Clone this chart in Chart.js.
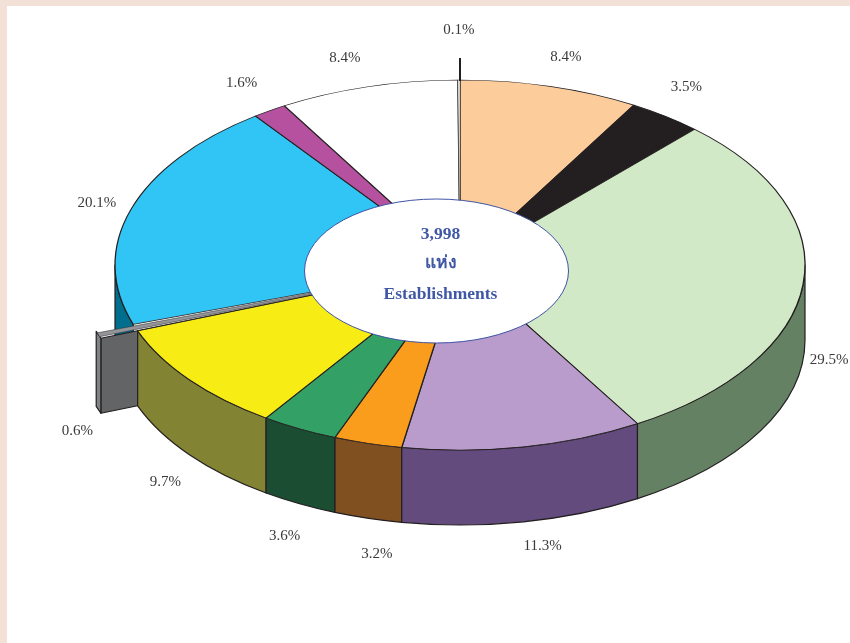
<!DOCTYPE html>
<html><head><meta charset="utf-8">
<style>
html,body{margin:0;padding:0;background:#f3e0d6;width:850px;height:643px;overflow:hidden}
#sheet{position:absolute;left:7px;top:6px;right:0;bottom:0;background:#fff}
canvas{position:absolute;left:0;top:0}
</style>
<script src="https://cdn.jsdelivr.net/npm/chart.js@4/dist/chart.umd.min.js"></script>
</head><body><div id="sheet"></div><canvas id="c" width="850" height="643"></canvas>
<script>
const sectors = ['A','B','C','D','E','F','G','H','I','J','K','L'];
const values = [8.4,3.5,29.5,11.3,3.2,3.6,9.7,0.6,20.1,1.6,8.4,0.1];
const topColors = ['#fdcc9b','#231f20','#d1e9c6','#b99ccb','#fa9c1c','#33a066','#f7ec13','#939598','#31c5f6','#b5519f','#ffffff','#ffffff'];
const wallColors = ['#c9a27a','#111111','#648163','#644b7d','#805021','#1b4d33','#828333','#636466','#006f8e','#7a3570','#dddddd','#dddddd'];
const explode = [0,0,0,0,0,0,0,80,0,0,0,0];
const borderWidths = [1.3,1.3,1.3,1.3,1.3,1.3,1.3,0.6,1.3,1.3,1.3,0.6];
const labelNudge = [[16,-29],[21,-29],[26,76],[19,99],[9,111],[-15,107],[-24,102],[-58,103],[-34,-6],[-28,-28],[-23,-29],[0,-50]];
const centerLines = ['3,998','แห่ง','Establishments'];

const SQUASH = 185/345, DEPTH = 75, INK = '#231f20';
const HOLE = {dx:-23.5, dy:6, rx:132, ry:72};

function wallPath(ctx,el,ry,a1,a2){
  ctx.beginPath();
  ctx.ellipse(el.x,el.y,el.outerRadius,ry,0,a1,a2);
  ctx.ellipse(el.x,el.y+DEPTH,el.outerRadius,ry,0,a2,a1,true);
  ctx.closePath();
}
const pie3d = {
  id:'pie3d',
  beforeDatasetsDraw(chart){
    const ctx = chart.ctx, arcs = chart.getDatasetMeta(0).data;
    ctx.save();
    ctx.lineWidth = 1.2; ctx.strokeStyle = INK; ctx.lineJoin='round';
    // walls, back-to-front: left side first, exploded sliver before its neighbour
    const order = [8,7,6,5,4,3,2,1,0];
    order.forEach(i=>{
      const el = arcs[i], off = (explode[i]||0)/4;
      ctx.fillStyle = wallColors[i];
      if(off>0){
        const mid=(el.startAngle+el.endAngle)/2, ox=el.x+Math.cos(mid)*off, oy=el.y+Math.sin(mid)*off*SQUASH;
        const R=el.outerRadius+off*(1-Math.sin(el.circumference));
        const p=a=>[ox+Math.cos(a)*R, oy+Math.sin(a)*R*SQUASH];
        const a=p(el.startAngle), b=p(el.endAngle);
        // radial side face
        ctx.beginPath();ctx.moveTo(ox,oy);ctx.lineTo(a[0],a[1]);ctx.lineTo(a[0],a[1]+DEPTH);ctx.lineTo(ox,oy+DEPTH);ctx.closePath();ctx.fill();ctx.stroke();
        // outer end face
        ctx.fillStyle='#808285';
        ctx.beginPath();ctx.moveTo(a[0],a[1]);ctx.lineTo(b[0],b[1]);ctx.lineTo(b[0],b[1]+DEPTH);ctx.lineTo(a[0],a[1]+DEPTH);ctx.closePath();ctx.fill();ctx.stroke();
        return;
      }
      const a1=Math.max(el.startAngle,0), a2=Math.min(el.endAngle,Math.PI);
      if(a2<=a1) return;
      wallPath(ctx,el,el.outerRadius*SQUASH,a1,a2);
      ctx.fill();ctx.stroke();
    });
    ctx.restore();
    const e=arcs[0];
    ctx.save();
    ctx.translate(e.x,e.y);ctx.scale(1,SQUASH);ctx.translate(-e.x,-e.y);
  },
  afterDatasetsDraw(chart){
    const ctx = chart.ctx, arcs = chart.getDatasetMeta(0).data, e=arcs[0];
    ctx.restore();
    const R=e.outerRadius, ry=R*SQUASH;
    // tick for the smallest sector
    const last=arcs[arcs.length-1];
    ctx.strokeStyle=INK;ctx.lineWidth=2;
    const ta=last.endAngle;
    ctx.beginPath();ctx.moveTo(e.x+Math.cos(ta)*R,e.y+Math.sin(ta)*ry+1);ctx.lineTo(e.x+Math.cos(ta)*R,e.y+Math.sin(ta)*ry-22);ctx.stroke();
    // centre label ellipse
    const hx=e.x+HOLE.dx, hy=e.y+HOLE.dy;
    ctx.beginPath();ctx.ellipse(hx,hy,HOLE.rx,HOLE.ry,0,0,Math.PI*2);
    ctx.fillStyle='#fff';ctx.fill();ctx.strokeStyle='#3f55a5';ctx.lineWidth=1;ctx.stroke();
    ctx.fillStyle='#4057a6';ctx.textAlign='center';ctx.textBaseline='middle';
    ctx.font='bold 17.5px "Liberation Serif"';
    ctx.fillText(centerLines[0],hx+4,e.y-31);
    ctx.fillText(centerLines[1],hx+4,e.y-2);
    ctx.fillText(centerLines[2],hx+4,e.y+29);
    // percentage labels
    ctx.fillStyle='#3a3a3c';ctx.font='15px "Liberation Serif"';
    arcs.forEach((el,i)=>{
      const mid=(el.startAngle+el.endAngle)/2;
      const x=e.x+Math.cos(mid)*R+labelNudge[i][0], y=e.y+Math.sin(mid)*ry+labelNudge[i][1];
      ctx.fillText(values[i].toFixed(1)+'%',x,y);
    });
  }
};
new Chart(document.getElementById('c'),{
  type:'pie',
  data:{labels:sectors,datasets:[{data:values,backgroundColor:topColors,borderColor:INK,borderWidth:borderWidths,offset:explode,clip:false}]},
  options:{
    responsive:false,animation:false,events:[],radius:345,
    layout:{padding:{left:70,bottom:113}},
    plugins:{legend:{display:false},tooltip:{enabled:false},title:{display:false}}
  },
  plugins:[pie3d]
});
</script></body></html>
